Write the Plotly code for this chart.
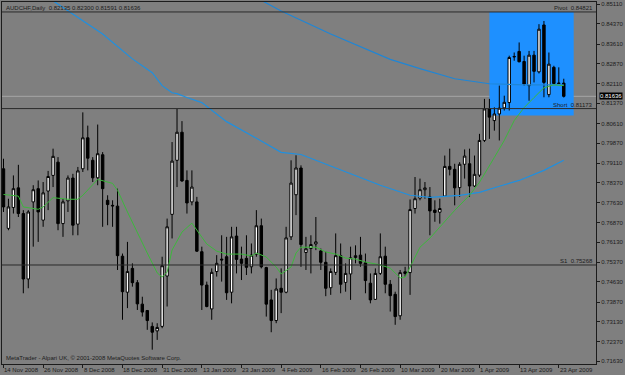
import plotly.graph_objects as go

# ---------------- data ----------------
symbol_title = "AUDCHF,Daily  0.82135 0.82300 0.81591 0.81636"
copyright_text = "MetaTrader - Alpari UK, © 2001-2008 MetaQuotes Software Corp."

date_labels = ["14 Nov 2008", "26 Nov 2008", "8 Dec 2008", "18 Dec 2008", "31 Dec 2008",
               "13 Jan 2009", "23 Jan 2009", "4 Feb 2009", "16 Feb 2009", "26 Feb 2009",
               "10 Mar 2009", "20 Mar 2009", "1 Apr 2009", "13 Apr 2009", "23 Apr 2009"]
date_bars = [0, 8, 16, 24, 32, 40, 48, 56, 64, 72, 80, 88, 96, 104, 112]

price_ticks = [0.85110, 0.84370, 0.83610, 0.82870, 0.82110, 0.81370, 0.80610, 0.79870,
               0.79110, 0.78370, 0.77630, 0.76870, 0.76130, 0.75370, 0.74630, 0.73870,
               0.73130, 0.72370, 0.71630]

opens = [0.7890, 0.7665, 0.7744, 0.7818, 0.7721, 0.7474, 0.7765, 0.7815, 0.7696, 0.7806,
         0.7865, 0.7915, 0.7683, 0.7769, 0.7855, 0.7681, 0.7890, 0.8007, 0.7922, 0.7856,
         0.7943, 0.7771, 0.7752, 0.7749, 0.7560, 0.7424, 0.7514, 0.7460, 0.7379, 0.7355,
         0.7295, 0.7278, 0.7295, 0.7485, 0.7718, 0.7922, 0.8028, 0.7846, 0.7765, 0.7765,
         0.7577, 0.7451, 0.7361, 0.7502, 0.7549, 0.7558, 0.7424, 0.7636, 0.7549, 0.7552,
         0.7520, 0.7568, 0.7675, 0.7517, 0.7395, 0.7317, 0.7439, 0.7424, 0.7633, 0.7792,
         0.7893, 0.7574, 0.7589, 0.7606, 0.7580, 0.7537, 0.7441, 0.7499, 0.7562, 0.7461,
         0.7493, 0.7555, 0.7564, 0.7535, 0.7458, 0.7397, 0.7495, 0.7560, 0.7454, 0.7416,
         0.7335, 0.7501, 0.7498, 0.7740, 0.7779, 0.7811, 0.7784, 0.7734, 0.7726, 0.7787,
         0.7899, 0.7888, 0.7819, 0.7907, 0.7909, 0.7825, 0.7866, 0.7997, 0.8116, 0.8072,
         0.8097, 0.8120, 0.8140, 0.8312, 0.8333, 0.8295, 0.8204, 0.8319, 0.8256, 0.8433,
         0.8170, 0.8273, 0.8214, 0.82135]
highs = [0.7928, 0.7777, 0.7865, 0.7905, 0.7734, 0.7734, 0.7828, 0.7846, 0.7840, 0.7882,
         0.7966, 0.7934, 0.7777, 0.7865, 0.7871, 0.7897, 0.8103, 0.8053, 0.7934, 0.8057,
         0.7953, 0.7790, 0.7771, 0.7815, 0.7570, 0.7614, 0.7533, 0.7470, 0.7407, 0.7357,
         0.7310, 0.7307, 0.7558, 0.7702, 0.7991, 0.8116, 0.8070, 0.7884, 0.7884, 0.7784,
         0.7596, 0.7464, 0.7514, 0.7564, 0.7639, 0.7633, 0.7671, 0.7671, 0.7596, 0.7639,
         0.7608, 0.7734, 0.7702, 0.7520, 0.7433, 0.7476, 0.7514, 0.7671, 0.7922, 0.7941,
         0.7903, 0.7633, 0.7639, 0.7708, 0.7589, 0.7577, 0.7514, 0.7646, 0.7608, 0.7533,
         0.7596, 0.7601, 0.7633, 0.7570, 0.7495, 0.7514, 0.7646, 0.7596, 0.7470, 0.7426,
         0.7508, 0.7520, 0.7774, 0.7859, 0.7853, 0.7840, 0.7821, 0.7771, 0.7777, 0.7940,
         0.7966, 0.7909, 0.7915, 0.7963, 0.7966, 0.7940, 0.8022, 0.8154, 0.8154, 0.8122,
         0.8204, 0.8166, 0.8317, 0.8329, 0.8367, 0.8317, 0.8335, 0.8335, 0.8436, 0.8448,
         0.8329, 0.8279, 0.8273, 0.82300]
lows = [0.7727, 0.7658, 0.7721, 0.7708, 0.7420, 0.7439, 0.7596, 0.7614, 0.7671, 0.7734,
        0.7821, 0.7658, 0.7633, 0.7727, 0.7639, 0.7639, 0.7878, 0.7884, 0.7840, 0.7828,
        0.7671, 0.7677, 0.7671, 0.7508, 0.7320, 0.7364, 0.7445, 0.7357, 0.7332, 0.7282,
        0.7207, 0.7244, 0.7288, 0.7370, 0.7627, 0.7821, 0.7841, 0.7721, 0.7752, 0.7576,
        0.7357, 0.7367, 0.7320, 0.7483, 0.7464, 0.7395, 0.7382, 0.7495, 0.7470, 0.7489,
        0.7495, 0.7558, 0.7514, 0.7332, 0.7273, 0.7307, 0.7345, 0.7420, 0.7621, 0.7715,
        0.7520, 0.7508, 0.7495, 0.7583, 0.7508, 0.7409, 0.7414, 0.7489, 0.7420, 0.7426,
        0.7395, 0.7533, 0.7520, 0.7420, 0.7382, 0.7395, 0.7489, 0.7420, 0.7351, 0.7301,
        0.7320, 0.7483, 0.7414, 0.7721, 0.7771, 0.7777, 0.7639, 0.7690, 0.7683, 0.7784,
        0.7865, 0.7752, 0.7784, 0.7853, 0.7784, 0.7821, 0.7859, 0.7991, 0.8003, 0.8034,
        0.7997, 0.8110, 0.8110, 0.8298, 0.8292, 0.8204, 0.8147, 0.8216, 0.8250, 0.8160,
        0.8160, 0.8210, 0.8210, 0.81591]
closes = [0.7746, 0.7746, 0.7815, 0.7721, 0.7474, 0.7727, 0.7811, 0.7727, 0.7799, 0.7861,
          0.7937, 0.7683, 0.7765, 0.7855, 0.7677, 0.7882, 0.8007, 0.7930, 0.7856, 0.7947,
          0.7815, 0.7755, 0.7750, 0.7562, 0.7426, 0.7502, 0.7460, 0.7380, 0.7349, 0.7317,
          0.7273, 0.7291, 0.7524, 0.7671, 0.7919, 0.8028, 0.7844, 0.7761, 0.7821, 0.7579,
          0.7451, 0.7370, 0.7499, 0.7533, 0.7546, 0.7422, 0.7633, 0.7548, 0.7533, 0.7518,
          0.7564, 0.7675, 0.7520, 0.7379, 0.7317, 0.7436, 0.7424, 0.7629, 0.7836, 0.7893,
          0.7604, 0.7588, 0.7604, 0.7614, 0.7537, 0.7439, 0.7502, 0.7562, 0.7454, 0.7495,
          0.7554, 0.7562, 0.7533, 0.7468, 0.7395, 0.7495, 0.7558, 0.7454, 0.7411, 0.7332,
          0.7498, 0.7495, 0.7736, 0.7777, 0.7811, 0.7818, 0.7731, 0.7725, 0.7740, 0.7899,
          0.7888, 0.7818, 0.7907, 0.7938, 0.7825, 0.7869, 0.7997, 0.8116, 0.8085, 0.8097,
          0.8119, 0.8141, 0.8310, 0.8314, 0.8294, 0.8210, 0.8319, 0.8258, 0.8417, 0.8216,
          0.8285, 0.8212, 0.8212, 0.81636]
bars = list(range(len(opens)))

# moving averages
ma_fast_bars = [0, 3, 4, 7, 8, 10, 13, 15, 16, 18, 19, 22, 23, 25, 27, 29, 31, 32, 33, 34,
                36, 38, 40, 41, 43, 45, 48, 50, 51, 53, 55, 56, 58, 59, 60, 63, 65, 67, 69,
                71, 73, 76, 78, 80, 81, 82, 84, 86, 88, 91, 94, 96, 99, 101, 103, 105, 107,
                109, 111, 113]
ma_fast_vals = [0.7793, 0.7787, 0.7746, 0.7737, 0.7746, 0.7781, 0.7775, 0.7775, 0.7790,
                0.7828, 0.7850, 0.7835, 0.7809, 0.7727, 0.7647, 0.7572, 0.7497, 0.7481,
                0.7500, 0.7583, 0.7651, 0.7685, 0.7632, 0.7606, 0.7579, 0.7568, 0.7568,
                0.7561, 0.7572, 0.7557, 0.7519, 0.7493, 0.7519, 0.7572, 0.7594, 0.7594,
                0.7576, 0.7568, 0.7553, 0.7549, 0.7538, 0.7527, 0.7515, 0.7478, 0.7481,
                0.7519, 0.7594, 0.7628, 0.7670, 0.7733, 0.7790, 0.7839, 0.7933, 0.7997,
                0.8072, 0.8121, 0.8159, 0.8196, 0.8207, 0.8204]
ma_mid_bars = [10, 20, 26, 30, 32, 34, 35, 37, 40, 42, 45, 50, 56, 60, 63, 70, 76, 82, 86,
               92, 96, 100, 104, 109, 113]
ma_mid_vals = [0.8524, 0.8399, 0.8305, 0.8253, 0.8204, 0.8177, 0.8174, 0.8159, 0.8140,
               0.8110, 0.8068, 0.8016, 0.7952, 0.7944, 0.7922, 0.7873, 0.7828, 0.7790,
               0.7782, 0.7790, 0.7801, 0.7824, 0.7846, 0.7884, 0.7922]
ma_slow_bars = [52, 56, 66, 78, 84, 91, 98, 105, 113]
ma_slow_vals = [0.8526, 0.8486, 0.8399, 0.8303, 0.8268, 0.8230, 0.8211, 0.8207, 0.8207]

# horizontal levels and rectangle object
level_names = ["Pivot", "Short", "S1"]
level_values = [0.84821, 0.81173, 0.75268]
bid_price = 0.81636
rect_bars = [98, 115]
rect_prices = [0.8091, 0.84821]

# ---------------- styles ----------------
BG = "#7f7f7f"
INK = "#1c1c1c"
FONT = "Liberation Sans"

fig = go.Figure()

fig.add_trace(go.Candlestick(
    x=bars, open=opens, high=highs, low=lows, close=closes,
    increasing=dict(line=dict(color="#000000", width=1), fillcolor="#ffffff"),
    decreasing=dict(line=dict(color="#000000", width=1), fillcolor="#000000"),
    whiskerwidth=0, hoverinfo="skip", showlegend=False,
))
fig.add_trace(go.Scatter(x=ma_slow_bars, y=ma_slow_vals, mode="lines",
                         line=dict(color="#1f86d6", width=1.2), hoverinfo="skip", showlegend=False))
fig.add_trace(go.Scatter(x=ma_mid_bars, y=ma_mid_vals, mode="lines",
                         line=dict(color="#1f90e0", width=1.2), hoverinfo="skip", showlegend=False))
fig.add_trace(go.Scatter(x=ma_fast_bars, y=ma_fast_vals, mode="lines",
                         line=dict(color="#3cb83c", width=1), hoverinfo="skip", showlegend=False))

shapes = [dict(type="rect", xref="x", yref="y", x0=rect_bars[0], x1=rect_bars[1],
               y0=rect_prices[0], y1=rect_prices[1], fillcolor="#1e90ff",
               line=dict(width=0), layer="below")]
shapes.append(dict(type="line", xref="paper", yref="y", x0=0, x1=1, y0=bid_price, y1=bid_price,
                   line=dict(color="#a6a6a6", width=1), layer="below"))
for v in level_values:
    shapes.append(dict(type="line", xref="paper", yref="y", x0=0, x1=1, y0=v, y1=v,
                       line=dict(color="#2a2a2a", width=1), layer="above"))

annotations = []
annotations.append(dict(text=symbol_title, xref="paper", yref="paper", x=0, y=1,
                        xanchor="left", yanchor="top", xshift=2, yshift=-1, showarrow=False,
                        font=dict(family=FONT, size=6, color=INK)))
annotations.append(dict(text=copyright_text, xref="paper", yref="paper", x=0, y=0,
                        xanchor="left", yanchor="bottom", xshift=2, yshift=1, showarrow=False,
                        font=dict(family=FONT, size=6, color=INK)))
for lab, b in zip(date_labels, date_bars):
    annotations.append(dict(text=lab, xref="x", yref="paper", x=b, y=0, xanchor="left",
                            yanchor="top", xshift=-1, yshift=-0.5, showarrow=False,
                            font=dict(family=FONT, size=6, color=INK)))
for name, v in zip(level_names, level_values):
    annotations.append(dict(text=f"{name}  {v:.5f}", xref="paper", yref="y", x=1, y=v,
                            xanchor="right", yanchor="bottom", xshift=-1, yshift=-1,
                            showarrow=False, font=dict(family=FONT, size=6, color=INK)))
annotations.append(dict(text=f"{bid_price:.5f}", xref="paper", yref="y", x=1, y=bid_price,
                        xanchor="left", yanchor="middle", xshift=3, showarrow=False,
                        bgcolor="#000000", borderpad=0,
                        font=dict(family=FONT, size=6, color="#ffffff")))

fig.update_layout(
    width=625, height=375,
    margin=dict(l=1, r=25, t=1, b=11, pad=0),
    paper_bgcolor=BG, plot_bgcolor=BG,
    shapes=shapes, annotations=annotations,
    showlegend=False,
    xaxis=dict(range=[-0.3, 119.5], rangeslider=dict(visible=False), showgrid=False,
               zeroline=False, showline=True, linecolor=INK, linewidth=1, mirror=True,
               tickvals=date_bars, showticklabels=False, ticks="outside", ticklen=3,
               tickcolor=INK, tickwidth=1),
    yaxis=dict(range=[0.71530, 0.85197], side="right", showgrid=False, zeroline=False,
               showline=True, linecolor=INK, linewidth=1, mirror=True,
               tickvals=price_ticks, ticktext=[f"{t:.5f}" for t in price_ticks],
               ticks="outside", ticklen=3, tickcolor=INK, tickwidth=1,
               tickfont=dict(family=FONT, size=6, color=INK)),
)

fig.write_html("out.html")
